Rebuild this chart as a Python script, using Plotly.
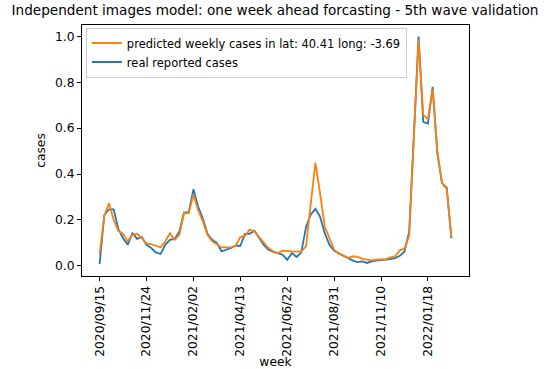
import plotly.graph_objects as go

weeks = list(range(76))
tick_positions = [0, 10, 20, 30, 40, 50, 60, 70]
tick_labels = ["2020/09/15", "2020/11/24", "2021/02/02", "2021/04/13",
               "2021/06/22", "2021/08/31", "2021/11/10", "2022/01/18"]

real_cases = [
    0.007, 0.22, 0.246, 0.246, 0.16, 0.12, 0.091, 0.142, 0.117, 0.125,
    0.091, 0.077, 0.058, 0.051, 0.091, 0.113, 0.117, 0.149, 0.232, 0.232,
    0.333, 0.258, 0.207, 0.139, 0.113, 0.099, 0.062, 0.068, 0.077, 0.087,
    0.087, 0.139, 0.139, 0.152, 0.12, 0.091, 0.07, 0.06, 0.055, 0.048,
    0.026, 0.055, 0.038, 0.058, 0.168, 0.222, 0.248, 0.214, 0.142, 0.091,
    0.065, 0.055, 0.043, 0.033, 0.022, 0.016, 0.019, 0.012, 0.019, 0.022,
    0.023, 0.026, 0.029, 0.033, 0.043, 0.062, 0.149, 0.60, 1.0, 0.627,
    0.62, 0.78, 0.49, 0.36, 0.34, 0.12]

predicted_cases = [
    0.052, 0.217, 0.272, 0.2, 0.152, 0.139, 0.106, 0.135, 0.139, 0.12,
    0.096, 0.094, 0.087, 0.08, 0.106, 0.142, 0.113, 0.135, 0.229, 0.229,
    0.309, 0.243, 0.193, 0.135, 0.106, 0.091, 0.08, 0.08, 0.08, 0.087,
    0.125, 0.13, 0.157, 0.149, 0.125, 0.099, 0.077, 0.062, 0.055, 0.065,
    0.062, 0.062, 0.061, 0.062, 0.084, 0.26, 0.449, 0.316, 0.171, 0.12,
    0.07, 0.052, 0.043, 0.033, 0.041, 0.038, 0.03, 0.026, 0.023, 0.026,
    0.026, 0.029, 0.036, 0.041, 0.067, 0.075, 0.13, 0.56, 0.985, 0.657,
    0.64, 0.77, 0.50, 0.36, 0.335, 0.125]

fig = go.Figure()
fig.add_trace(go.Scatter(x=weeks, y=real_cases, mode="lines",
                         name="real reported cases",
                         line=dict(color="#1f77b4", width=1.8)))
fig.add_trace(go.Scatter(x=weeks, y=predicted_cases, mode="lines",
                         name="predicted weekly cases in lat: 40.41 long: -3.69",
                         line=dict(color="#ff7f0e", width=1.8)))

font_family = "DejaVu Sans"
tick_size = 12.3
axis_common = dict(showline=True, linecolor="black", linewidth=1, mirror=True,
                   ticks="outside", ticklen=4, tickcolor="black", tickwidth=1,
                   showgrid=False, zeroline=False, automargin=False,
                   tickfont=dict(family=font_family, size=tick_size, color="black"))

fig.update_layout(
    width=550, height=369,
    margin=dict(l=82, r=81, t=25, b=93),
    paper_bgcolor="white", plot_bgcolor="white",
    title=dict(text="Independent images model: one week ahead forcasting - 5th wave validation",
               x=0.5, xanchor="center", y=0.985, yanchor="top",
               font=dict(family=font_family, size=13.6, color="black")),
    xaxis=dict(range=[-3.75, 78.75], tickvals=tick_positions, ticktext=tick_labels,
               tickangle=-90,
               title=dict(text="week", font=dict(family=font_family, size=tick_size, color="black"),
                          standoff=2),
               **axis_common),
    yaxis=dict(range=[-0.045, 1.05], tickvals=[0, 0.2, 0.4, 0.6, 0.8, 1.0],
               tickformat=".1f",
               title=dict(text="cases", font=dict(family=font_family, size=tick_size, color="black"),
                          standoff=6),
               **axis_common),
    legend=dict(x=0.01, y=0.99, xanchor="left", yanchor="top",
                traceorder="reversed", itemwidth=30,
                bgcolor="white", bordercolor="#cccccc", borderwidth=1,
                font=dict(family=font_family, size=11.5, color="black"),
                tracegroupgap=0),
    showlegend=True,
)

fig.write_html("out.html",
               config={"displayModeBar": False},
               post_script="document.body.style.margin='0px';document.body.style.padding='0px';")
